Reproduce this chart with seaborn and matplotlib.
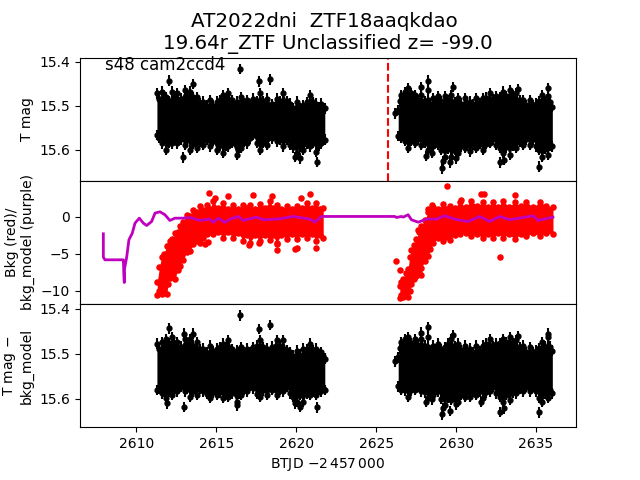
# plot.py
import matplotlib
matplotlib.use('Agg')
import matplotlib.pyplot as plt
import seaborn as sns

TITLE = 'AT2022dni  ZTF18aaqkdao \n19.64r_ZTF Unclassified z= -99.0'
SECTOR = 's48 cam2ccd4'
EVENT_T = 2625.75
MAG_ERR = 0.012

# columnas de tiempo, primer y segundo tramo
t_a = [2611.29, 2611.44, 2611.58, 2611.72, 2611.86, 2612.04, 2612.21, 2612.36, 2612.52, 2612.78,
       2613.04, 2613.2, 2613.36, 2613.56, 2613.77, 2613.98, 2614.19, 2614.4, 2614.6, 2614.81,
       2615.02, 2615.23, 2615.44, 2615.6, 2615.75, 2616.01, 2616.27, 2616.42, 2616.58, 2616.74,
       2616.9, 2617.1, 2617.31, 2617.52, 2617.73, 2617.94, 2618.15, 2618.46, 2618.77, 2618.98,
       2619.19, 2619.4, 2619.6, 2619.81, 2620.02, 2620.23, 2620.44, 2620.65, 2620.85, 2621.06,
       2621.27, 2621.42, 2621.58, 2621.68, 2621.79]
t_b = [2626.38, 2626.48, 2626.58, 2626.79, 2627.0, 2627.21, 2627.42, 2627.62, 2627.83, 2628.04,
       2628.25, 2628.4, 2628.56, 2628.72, 2628.88, 2629.08, 2629.29, 2629.5, 2629.71, 2629.92,
       2630.13, 2630.33, 2630.54, 2630.7, 2630.85, 2631.06, 2631.27, 2631.48, 2631.69, 2631.9,
       2632.1, 2632.31, 2632.52, 2632.73, 2632.94, 2633.15, 2633.35, 2633.56, 2633.77, 2633.98,
       2634.19, 2634.4, 2634.6, 2634.81, 2635.02, 2635.2, 2635.38, 2635.56, 2635.75, 2635.88,
       2636.02]

# panel superior: borde alto y bajo de la banda
mag_hi_a = [15.472, 15.484, 15.468, 15.478, 15.480, 15.490, 15.468, 15.480, 15.472, 15.484,
            15.465, 15.476, 15.468, 15.480, 15.480, 15.494, 15.491, 15.500, 15.487, 15.500,
            15.491, 15.488, 15.476, 15.484, 15.472, 15.488, 15.491, 15.498, 15.480, 15.494,
            15.487, 15.496, 15.484, 15.490, 15.472, 15.490, 15.484, 15.497, 15.484, 15.490,
            15.472, 15.490, 15.495, 15.505, 15.491, 15.505, 15.499, 15.492, 15.476, 15.492,
            15.495, 15.504, 15.495, 15.505, 15.506]
mag_lo_a = [15.566, 15.572, 15.585, 15.578, 15.600, 15.584, 15.585, 15.575, 15.585, 15.576,
            15.588, 15.578, 15.600, 15.586, 15.596, 15.582, 15.588, 15.578, 15.592, 15.580,
            15.600, 15.590, 15.607, 15.590, 15.592, 15.584, 15.611, 15.594, 15.596, 15.582,
            15.585, 15.574, 15.566, 15.584, 15.600, 15.584, 15.588, 15.574, 15.581, 15.578,
            15.592, 15.578, 15.588, 15.594, 15.607, 15.592, 15.600, 15.586, 15.592, 15.584,
            15.604, 15.590, 15.585, 15.578, 15.577]
mag_hi_b = [15.510, 15.490, 15.476, 15.470, 15.460, 15.472, 15.476, 15.488, 15.476, 15.490,
            15.487, 15.496, 15.483, 15.492, 15.479, 15.490, 15.479, 15.488, 15.476, 15.492,
            15.483, 15.495, 15.483, 15.498, 15.491, 15.497, 15.483, 15.494, 15.483, 15.482,
            15.472, 15.486, 15.479, 15.480, 15.468, 15.478, 15.464, 15.476, 15.472, 15.488,
            15.487, 15.498, 15.487, 15.500, 15.495, 15.490, 15.476, 15.490, 15.479, 15.492,
            15.502]
mag_lo_b = [15.569, 15.568, 15.573, 15.580, 15.596, 15.580, 15.584, 15.576, 15.588, 15.584,
            15.600, 15.588, 15.592, 15.580, 15.588, 15.600, 15.615, 15.598, 15.615, 15.600,
            15.607, 15.592, 15.596, 15.590, 15.603, 15.588, 15.596, 15.586, 15.600, 15.586,
            15.584, 15.576, 15.588, 15.596, 15.607, 15.594, 15.611, 15.590, 15.596, 15.582,
            15.588, 15.576, 15.588, 15.576, 15.592, 15.600, 15.615, 15.598, 15.611, 15.590,
            15.592]
out_t = [2616.5, 2612.06, 2617.69, 2618.35, 2612.94, 2620.23, 2621.31, 2619.92, 2613.56,
         2628.25, 2628.25, 2627.81, 2626.21, 2629.81, 2633.88, 2628.15, 2629.13, 2629.19,
         2629.63, 2630.02, 2632.73, 2633.0, 2635.19, 2628.5, 2635.75]
out_mag = [15.417, 15.443, 15.445, 15.44, 15.617, 15.619, 15.627, 15.616, 15.451,
           15.443, 15.464, 15.458, 15.517, 15.458, 15.462, 15.614, 15.642, 15.625,
           15.628, 15.619, 15.628, 15.623, 15.638, 15.606, 15.46]

# panel inferior: magnitud menos modelo de fondo
sub_hi_a = [15.478, 15.490, 15.474, 15.482, 15.467, 15.476, 15.463, 15.476, 15.474, 15.484,
            15.467, 15.478, 15.467, 15.482, 15.474, 15.490, 15.489, 15.498, 15.482, 15.494,
            15.489, 15.486, 15.478, 15.486, 15.470, 15.490, 15.493, 15.498, 15.485, 15.497,
            15.489, 15.496, 15.485, 15.482, 15.470, 15.486, 15.489, 15.484, 15.470, 15.482,
            15.470, 15.492, 15.496, 15.504, 15.493, 15.502, 15.489, 15.490, 15.478, 15.492,
            15.489, 15.502, 15.496, 15.506, 15.511]
sub_lo_a = [15.581, 15.578, 15.588, 15.584, 15.599, 15.584, 15.592, 15.580, 15.584, 15.574,
            15.584, 15.578, 15.596, 15.584, 15.592, 15.578, 15.584, 15.590, 15.599, 15.586,
            15.592, 15.586, 15.599, 15.586, 15.596, 15.588, 15.607, 15.590, 15.592, 15.580,
            15.584, 15.572, 15.577, 15.590, 15.596, 15.582, 15.592, 15.580, 15.592, 15.580,
            15.584, 15.574, 15.588, 15.596, 15.607, 15.592, 15.607, 15.590, 15.592, 15.584,
            15.592, 15.580, 15.584, 15.576, 15.581]
sub_hi_b = [15.508, 15.488, 15.474, 15.468, 15.463, 15.476, 15.467, 15.480, 15.467, 15.482,
            15.485, 15.494, 15.482, 15.490, 15.478, 15.490, 15.485, 15.478, 15.467, 15.484,
            15.478, 15.492, 15.482, 15.496, 15.489, 15.496, 15.482, 15.494, 15.482, 15.478,
            15.467, 15.484, 15.478, 15.476, 15.467, 15.474, 15.463, 15.476, 15.470, 15.486,
            15.482, 15.496, 15.485, 15.498, 15.493, 15.488, 15.474, 15.484, 15.463, 15.484,
            15.493]
sub_lo_b = [15.573, 15.570, 15.581, 15.582, 15.596, 15.582, 15.581, 15.574, 15.584, 15.586,
            15.599, 15.586, 15.592, 15.580, 15.584, 15.600, 15.614, 15.598, 15.603, 15.596,
            15.607, 15.592, 15.596, 15.586, 15.596, 15.584, 15.592, 15.584, 15.599, 15.586,
            15.584, 15.574, 15.588, 15.596, 15.607, 15.592, 15.603, 15.586, 15.588, 15.578,
            15.584, 15.574, 15.584, 15.574, 15.584, 15.598, 15.607, 15.590, 15.599, 15.582,
            15.588]
sub_out_t = [2616.47, 2617.68, 2618.36, 2612.06, 2613.0, 2613.56, 2612.96, 2620.23, 2621.31,
             2619.92, 2616.3, 2611.9, 2628.25, 2628.25, 2627.81, 2626.21, 2629.81, 2633.88,
             2628.15, 2629.13, 2629.19, 2629.63, 2630.02, 2632.73, 2633.0, 2635.19, 2628.5,
             2631.58, 2635.75]
sub_out_mag = [15.414, 15.445, 15.436, 15.443, 15.455, 15.455, 15.619, 15.619, 15.62,
               15.611, 15.615, 15.611, 15.441, 15.462, 15.453, 15.517, 15.458, 15.461,
               15.608, 15.635, 15.622, 15.628, 15.613, 15.63, 15.622, 15.631, 15.602,
               15.608, 15.455]

# panel central: fondo (rojo)
bkg_t_a = [2611.31, 2611.45, 2611.58, 2611.74, 2611.9, 2612.0, 2612.1, 2612.26, 2612.42, 2612.58,
           2612.73, 2612.94, 2613.15, 2613.36, 2613.56, 2613.77, 2613.98, 2614.19, 2614.4, 2614.6,
           2614.81, 2615.12, 2615.44, 2615.75, 2616.06, 2616.38, 2616.69, 2616.9, 2617.1, 2617.42,
           2617.73, 2618.04, 2618.35, 2618.56, 2618.77, 2619.08, 2619.4, 2619.71, 2620.02, 2620.34,
           2620.65, 2620.96, 2621.27, 2621.48, 2621.69]
bkg_hi_a = [-8.8, -6.8, -5.4, -5.0, -3.9, -3.9, -3.3, -3.0, -2.2, -2.0,
            -1.3, -0.7, 0.3, 0.1, 0.95, 0.7, 1.4, 0.9, 1.6, 1.1,
            2.1, 1.2, 1.85, 1.1, 1.6, 1.0, 1.6, 1.2, 1.6, 1.0,
            1.75, 1.2, 2.1, 1.2, 1.6, 1.0, 1.5, 1.0, 1.5, 1.2,
            1.85, 1.2, 1.85, 1.1, 1.2]
bkg_lo_a = [-10.5, -10.0, -10.4, -10.2, -10.4, -9.0, -8.3, -8.0, -8.4, -7.2,
            -6.6, -5.8, -4.8, -4.6, -3.7, -3.2, -3.5, -2.8, -2.3, -2.0,
            -2.3, -2.0, -2.8, -2.1, -2.8, -2.2, -3.2, -2.4, -3.5, -2.5,
            -3.2, -2.4, -3.1, -2.5, -3.5, -2.4, -3.0, -2.3, -3.0, -2.3,
            -2.8, -2.3, -3.2, -2.4, -2.8]
bkg_t_b = [2626.48, 2626.58, 2626.69, 2626.85, 2627.0, 2627.1, 2627.21, 2627.36, 2627.52, 2627.68,
           2627.83, 2628.04, 2628.25, 2628.4, 2628.56, 2628.88, 2629.19, 2629.4, 2629.6, 2629.92,
           2630.23, 2630.6, 2630.96, 2631.32, 2631.69, 2632.0, 2632.31, 2632.62, 2632.94, 2633.3,
           2633.67, 2634.04, 2634.4, 2634.82, 2635.23, 2635.64, 2636.06]
bkg_hi_b = [-9.3, -8.8, -8.4, -7.6, -7.0, -5.4, -4.5, -3.8, -3.0, -2.0,
            -1.2, -0.4, 0.6, 0.8, 1.3, 1.0, 1.75, 1.1, 1.5, 1.2,
            2.0, 1.3, 2.2, 1.4, 2.0, 1.3, 2.0, 1.3, 2.2, 1.3,
            2.0, 1.4, 2.0, 1.3, 2.0, 1.5, 1.3]
bkg_lo_b = [-10.9, -10.5, -10.8, -10.4, -10.8, -10.0, -9.1, -8.4, -8.05, -7.4,
            -6.9, -6.0, -5.3, -4.4, -3.5, -2.8, -3.2, -2.7, -3.1, -2.4,
            -2.3, -2.2, -2.6, -2.3, -2.9, -2.3, -2.8, -2.2, -2.8, -2.3,
            -3.0, -2.3, -2.6, -2.2, -2.6, -2.2, -2.3]
bkg_out_t = [2614.56, 2614.92, 2615.71, 2617.31, 2618.46, 2620.33, 2620.85, 2614.29, 2614.5,
             2617.06, 2617.67, 2618.77, 2618.77, 2620.02, 2619.92, 2621.27,
             2629.44, 2630.29, 2631.58, 2631.75, 2633.71, 2632.75, 2626.27, 2626.5, 2627.81,
             2627.63, 2628.25, 2628.5]
bkg_out_val = [3.2, 2.5, 2.75, 3.0, 2.85, 2.5, 3.1, -3.65, -3.4,
               -3.8, -3.5, -3.65, -4.45, -4.2, -4.3, -4.2,
               4.2, 2.3, 3.1, 3.1, 2.9, -5.45, -6.0, -7.2, -7.9,
               -1.75, 1.05, 1.6]

# modelo de fondo (morado)
model_t = [2607.94, 2607.94, 2608.04, 2609.19, 2609.25, 2609.25, 2609.4, 2609.54, 2609.75, 2609.92,
           2610.19, 2610.44, 2610.65, 2610.96, 2611.17, 2611.48, 2611.79, 2612.1, 2612.42, 2612.94,
           2613.36, 2613.98, 2614.6, 2614.81, 2615.13, 2615.54, 2615.86, 2616.38, 2616.69, 2617.52,
           2617.94, 2618.98, 2619.81, 2620.85, 2621.17, 2621.58, 2622.73, 2626.17, 2626.27, 2626.58,
           2626.69, 2627.0, 2627.21, 2627.63, 2628.15, 2628.77, 2629.29, 2629.92, 2630.33, 2630.75,
           2631.48, 2632.1, 2632.73, 2633.35, 2634.19, 2634.81, 2635.13, 2636.06]
model_val = [-2.29, -5.44, -5.8, -5.8, -8.86, -7.15, -5.44, -3.1, -2.2, -0.85,
             -0.18, -0.85, -1.17, -0.63, 0.5, 0.68, 0.28, -0.49, -0.18, -0.18,
             -0.09, -0.49, -0.31, -0.76, -0.18, -0.76, -0.31, 0.05, -0.49, -0.04,
             -0.4, -0.27, 0.05, -0.31, -0.72, 0.05, 0.05, 0.05, -0.09, 0.05,
             -0.04, 0.28, -0.4, -0.72, -0.31, -0.31, 0.14, -0.31, -0.49, -0.63,
             0.05, -0.63, 0.05, -0.4, -0.09, 0.14, -0.49, -0.04]


def dibujar_banda(ax, t, hi, lo, color):
    ax.fill_between(t, hi, lo, color=color, linewidth=0)
    if color == 'k':
        ax.errorbar(t, hi, yerr=MAG_ERR, fmt='o', ms=3.5, color='k')
        ax.errorbar(t, lo, yerr=MAG_ERR, fmt='o', ms=3.5, color='k')
    else:
        sns.scatterplot(x=t + t, y=hi + lo, color=color, s=22, linewidth=0, ax=ax)


fig, axes = plt.subplots(3, 1, sharex=True)
plt.subplots_adjust(hspace=0)
ax_mag, ax_bkg, ax_sub = axes

# 1. Magnitud
dibujar_banda(ax_mag, t_a, mag_hi_a, mag_lo_a, 'k')
dibujar_banda(ax_mag, t_b, mag_hi_b, mag_lo_b, 'k')
ax_mag.errorbar(out_t, out_mag, yerr=MAG_ERR, fmt='o', ms=3.5, color='k')
ax_mag.axvline(EVENT_T, color='r', ls='--')
ax_mag.set_ylim(15.67, 15.391)
ax_mag.set_yticks([15.4, 15.5, 15.6])
ax_mag.set_ylabel('T mag')
ax_mag.text(0.05, 0.9, SECTOR, transform=ax_mag.transAxes, fontsize=12)
ax_mag.set_title(TITLE, fontsize=14.3)

# 2. Fondo y modelo
dibujar_banda(ax_bkg, bkg_t_a, bkg_hi_a, bkg_lo_a, 'r')
dibujar_banda(ax_bkg, bkg_t_b, bkg_hi_b, bkg_lo_b, 'r')
sns.scatterplot(x=bkg_out_t, y=bkg_out_val, color='r', s=22, linewidth=0, ax=ax_bkg)
sns.lineplot(x=model_t, y=model_val, color='m', lw=2, estimator=None, sort=False, ax=ax_bkg)
ax_bkg.set_ylim(-11.76, 4.86)
ax_bkg.set_yticks([0, -5, -10])
ax_bkg.set_ylabel('Bkg (red)/\nbkg_model (purple)')

# 3. Magnitud menos modelo
dibujar_banda(ax_sub, t_a, sub_hi_a, sub_lo_a, 'k')
dibujar_banda(ax_sub, t_b, sub_hi_b, sub_lo_b, 'k')
ax_sub.errorbar(sub_out_t, sub_out_mag, yerr=MAG_ERR, fmt='o', ms=3.5, color='k')
ax_sub.set_ylim(15.664, 15.389)
ax_sub.set_yticks([15.4, 15.5, 15.6])
ax_sub.set_ylabel('T mag $-$\nbkg_model')

ax_sub.set_xlim(2606.48, 2637.5)
ax_sub.set_xticks([2610, 2615, 2620, 2625, 2630, 2635])
ax_sub.set_xlabel(r'BTJD $-2\,457\,000$')
for ax in (ax_mag, ax_bkg):
    ax.tick_params(axis='x', bottom=False)

plt.savefig('out.png', dpi=100)
